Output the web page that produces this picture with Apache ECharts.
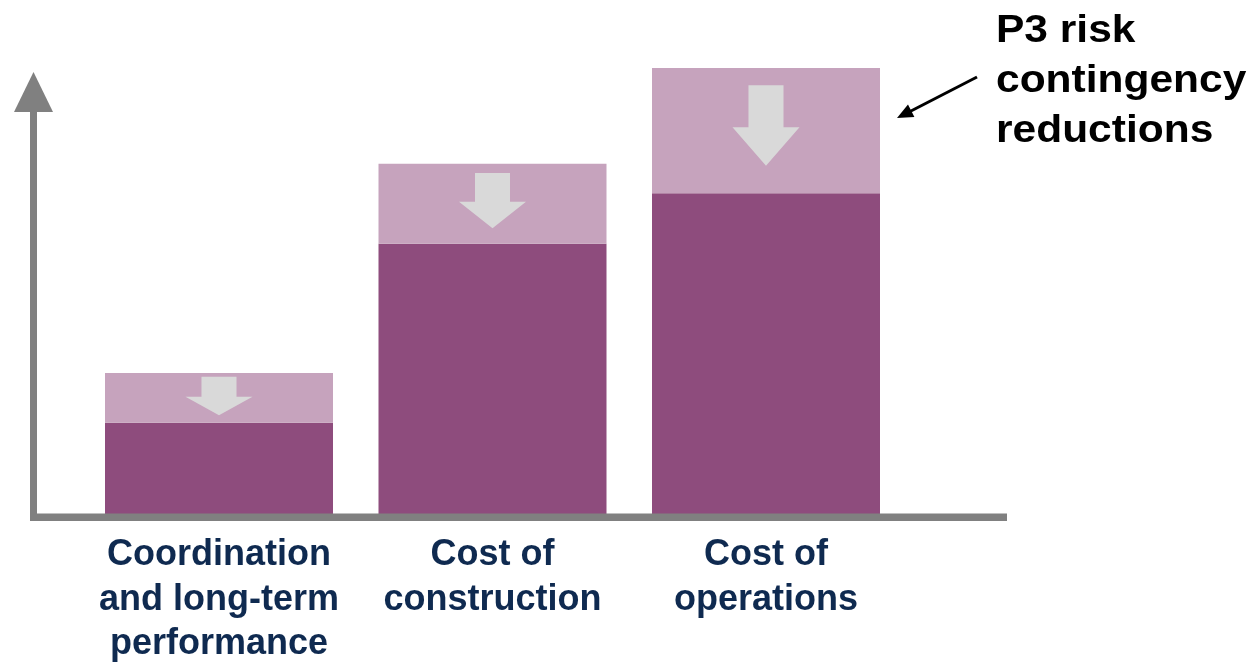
<!DOCTYPE html>
<html>
<head>
<meta charset="utf-8">
<script src="https://cdn.jsdelivr.net/npm/echarts@6/dist/echarts.min.js"></script>
<style>
  html, body { margin: 0; padding: 0; background: #ffffff; }
  #chart { width: 1249px; height: 663px; }
</style>
</head>
<body>
<div id="chart"></div>
<script>
// Categories and values (arbitrary cost units, axis runs 0–100)
const categories = [
  'Coordination\nand long-term\nperformance',
  'Cost of\nconstruction',
  'Cost of\noperations'
];
// cost after P3 risk contingency reduction (solid part)
const reducedCost = [20.4, 60, 71.2];
// contingency removed (pale part stacked on top)
const contingencyReduction = [11, 17.7, 27.7];

const annotationText = 'P3 risk\ncontingency\nreductions';

const DARK = '#8e4c7d';
const LIGHT = '#c6a3bd';
const ARROW = '#d9d9d9';
const AXIS = '#808080';
const LABEL = '#0f2a50';

const chart = echarts.init(document.getElementById('chart'), null, { renderer: 'canvas' });

// data for the down arrows: [category index, base, total]
const arrowData = reducedCost.map((v, i) => [i, v, v + contingencyReduction[i]]);

function renderDownArrow(params, api) {
  const idx = api.value(0);
  const top = api.coord([idx, api.value(2)]);
  const bottom = api.coord([idx, api.value(1)]);
  const band = api.size([1, 0])[0];
  const cx = top[0];
  const h = bottom[1] - top[1];
  const len = 11 + 0.555 * h;
  const cy = (top[1] + bottom[1]) / 2 - 0.04 * h;
  const ys = cy - len / 2;
  const ye = cy + len / 2;
  const headStart = ye - 0.48 * len;
  const sw = 0.064 * band;
  const hw = 0.1225 * band;
  return {
    type: 'polygon',
    shape: {
      points: [
        [cx - sw, ys], [cx + sw, ys], [cx + sw, headStart],
        [cx + hw, headStart], [cx, ye], [cx - hw, headStart],
        [cx - sw, headStart]
      ]
    },
    style: { fill: ARROW },
    silent: true
  };
}

const option = {
  animation: false,
  backgroundColor: '#ffffff',
  grid: {
    left: 82.25,
    width: 820.5,
    top: 63,
    bottom: 148,
    outerBoundsMode: 'none',
    containLabel: false
  },
  xAxis: {
    type: 'category',
    data: categories,
    axisLine: { show: false },
    axisTick: { show: false },
    axisLabel: {
      interval: 0,
      color: LABEL,
      fontSize: 36,
      fontWeight: 'bold',
      fontFamily: 'Liberation Sans, Arial, sans-serif',
      lineHeight: 44.5,
      margin: 18
    }
  },
  yAxis: {
    type: 'value',
    min: 0,
    max: 100,
    show: false
  },
  series: [
    {
      name: 'Reduced cost',
      type: 'bar',
      stack: 'cost',
      barWidth: 228,
      data: reducedCost,
      itemStyle: { color: DARK },
      silent: true
    },
    {
      name: 'Contingency reduction',
      type: 'bar',
      stack: 'cost',
      barWidth: 228,
      data: contingencyReduction,
      itemStyle: { color: LIGHT },
      silent: true
    },
    {
      name: 'Reduction arrow',
      type: 'custom',
      renderItem: renderDownArrow,
      data: arrowData,
      z: 5,
      silent: true
    }
  ],
  graphic: [
    // vertical axis with arrow head
    { type: 'rect', shape: { x: 30, y: 110, width: 7, height: 411 }, style: { fill: AXIS }, z: 10 },
    { type: 'polygon', shape: { points: [[33.5, 72], [14, 112], [53, 112]] }, style: { fill: AXIS }, z: 10 },
    // horizontal axis
    { type: 'rect', shape: { x: 30, y: 513.5, width: 977, height: 7.5 }, style: { fill: AXIS }, z: 10 },
    // pointer to the pale segments
    { type: 'line', shape: { x1: 977, y1: 77, x2: 910, y2: 111.5 }, style: { stroke: '#000', lineWidth: 3 }, z: 10 },
    { type: 'polygon', shape: { points: [[897, 118], [914.4, 116.9], [908, 104.5]] }, style: { fill: '#000' }, z: 10 },
    {
      type: 'text',
      x: 996,
      y: 6,
      scaleX: 1.09,
      z: 10,
      style: {
        text: annotationText,
        x: 0,
        y: 0,
        fill: '#000000',
        font: 'bold 39px "Liberation Sans", Arial, sans-serif',
        lineHeight: 50,
        verticalAlign: 'top',
        align: 'left'
      }
    }
  ]
};

chart.setOption(option);
</script>
</body>
</html>
